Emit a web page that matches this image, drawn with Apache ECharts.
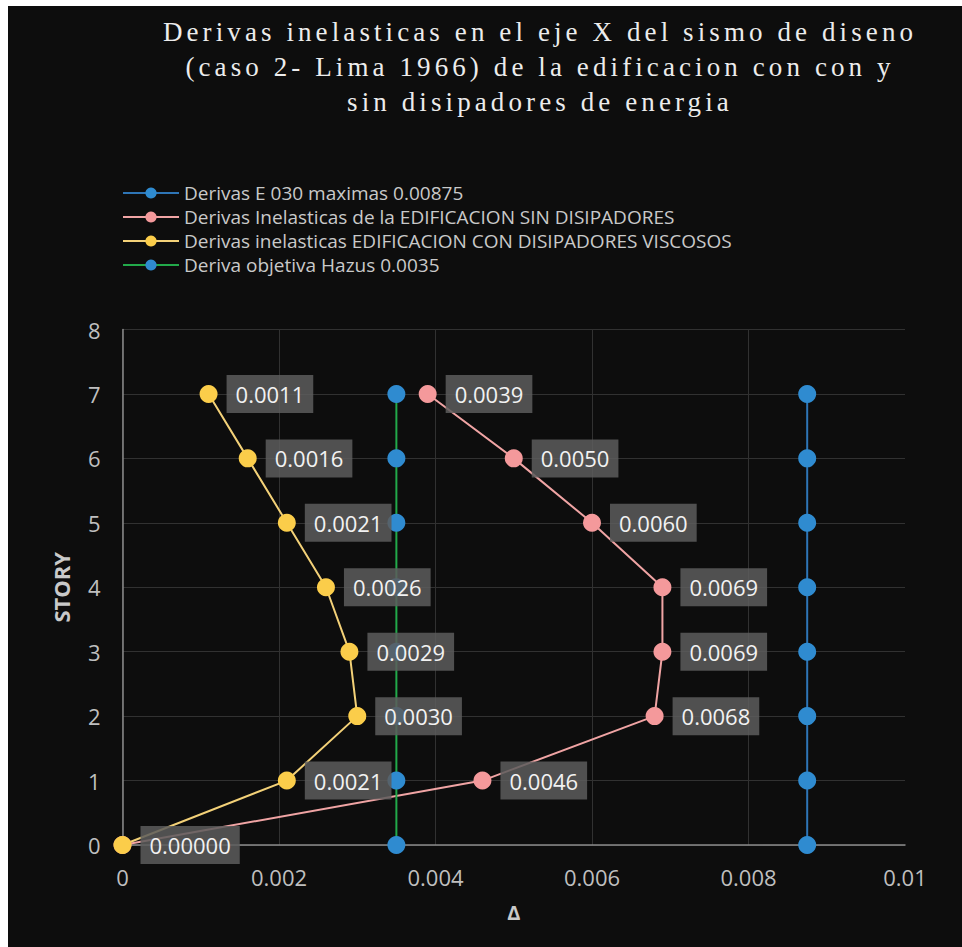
<!DOCTYPE html>
<html>
<head>
<meta charset="utf-8">
<title>Derivas inelasticas - eje X</title>
<script src="https://cdn.jsdelivr.net/npm/echarts@6/dist/echarts.min.js"></script>
<style>
  html, body { margin: 0; padding: 0; background: #ffffff; }
  #chart { position: absolute; left: 8px; top: 6px; width: 954px; height: 941px; background: #0d0d0d; }
  /* spaced-out serif heading */
  #chart svg text[style*="Liberation Serif"] { letter-spacing: 4.1px; }
</style>
</head>
<body>
<div id="chart"></div>
<script>
// Story levels (vertical axis)
const stories = [0, 1, 2, 3, 4, 5, 6, 7];

// Drift values per story
const e030Max = [0.00875, 0.00875, 0.00875, 0.00875, 0.00875, 0.00875, 0.00875, 0.00875];
const sinDisipadores = [0, 0.0046, 0.0068, 0.0069, 0.0069, 0.0060, 0.0050, 0.0039];
const conDisipadores = [0, 0.0021, 0.0030, 0.0029, 0.0026, 0.0021, 0.0016, 0.0011];
const hazusObjetivo = [0.0035, 0.0035, 0.0035, 0.0035, 0.0035, 0.0035, 0.0035, 0.0035];

// Series names shown in the legend
const seriesNames = [
  'Derivas E 030 maximas 0.00875',
  'Derivas Inelasticas de la EDIFICACION SIN DISIPADORES',
  'Derivas inelasticas EDIFICACION CON DISIPADORES VISCOSOS',
  'Deriva objetiva Hazus 0.0035'
];

// Axis ranges and tick steps
const xTicks = [0, 0.002, 0.004, 0.006, 0.008, 0.01];
const yTicks = [0, 1, 2, 3, 4, 5, 6, 7, 8];

const titleLines = [
  'Derivas inelasticas en el eje X del sismo de diseno',
  '(caso 2- Lima 1966) de la edificacion con con y',
  'sin disipadores de energia'
];

const pairs = (xs) => xs.map((x, i) => [x, stories[i]]);

const labelStyle = {
  show: true,
  position: 'right',
  distance: 9,
  color: '#f2f2f2',
  fontFamily: 'Open Sans',
  fontSize: 22,
  backgroundColor: 'rgba(92,92,92,0.86)',
  padding: [8, 9],
  formatter: (p) => (p.value[0] === 0 ? p.value[0].toFixed(5) : p.value[0].toFixed(4))
};

const chart = echarts.init(document.getElementById('chart'), null, { renderer: 'svg' });

chart.setOption({
  animation: false,
  backgroundColor: '#0d0d0d',
  title: {
    text: titleLines.join('\n'),
    left: 527,
    top: 3,
    textAlign: 'center',
    textStyle: {
      color: '#ececec',
      fontFamily: 'Liberation Serif',
      fontWeight: 'normal',
      fontSize: 27,
      lineHeight: 35
    }
  },
  legend: {
    orient: 'vertical',
    left: 109,
    top: 172,
    itemWidth: 56,
    itemHeight: 14,
    itemGap: 4,
    textStyle: { color: '#c9c9c9', fontFamily: 'Open Sans', fontSize: 19, lineHeight: 20 },
    data: seriesNames
  },
  grid: { left: 114.5, top: 323.5, width: 782.5, height: 515.5, containLabel: false },
  xAxis: {
    type: 'value',
    min: xTicks[0],
    max: xTicks[xTicks.length - 1],
    interval: xTicks[1] - xTicks[0],
    name: 'Δ',
    nameLocation: 'middle',
    nameGap: 57,
    nameTextStyle: { color: '#c9c9c9', fontFamily: 'Open Sans', fontWeight: 'bold', fontSize: 20 },
    axisLine: { show: true, lineStyle: { color: '#8a8a8a', width: 1.5 } },
    axisTick: { show: false },
    axisLabel: { color: '#bfbfbf', fontFamily: 'Open Sans', fontSize: 22, margin: 21 },
    splitLine: { show: true, showMaxLine: false, lineStyle: { color: '#313131', width: 1 } }
  },
  yAxis: {
    type: 'value',
    min: yTicks[0],
    max: yTicks[yTicks.length - 1],
    interval: yTicks[1] - yTicks[0],
    name: 'STORY',
    nameLocation: 'middle',
    nameGap: 51,
    nameRotate: 90,
    nameTextStyle: { color: '#c9c9c9', fontFamily: 'Open Sans', fontWeight: 'bold', fontSize: 22 },
    axisLine: { show: true, lineStyle: { color: '#8a8a8a', width: 1.5 } },
    axisTick: { show: false },
    axisLabel: { color: '#bfbfbf', fontFamily: 'Open Sans', fontSize: 22, margin: 22 },
    splitLine: { show: true, lineStyle: { color: '#313131', width: 1 } }
  },
  series: [
    {
      name: seriesNames[0],
      type: 'line',
      data: pairs(e030Max),
      symbol: 'circle',
      symbolSize: 18,
      lineStyle: { color: '#2e75b6', width: 2 },
      itemStyle: { color: '#2f8bd0' }
    },
    {
      name: seriesNames[1],
      type: 'line',
      data: pairs(sinDisipadores).map((d, i) => (i === 0 ? { value: d, label: { show: false } } : d)),
      symbol: 'circle',
      symbolSize: 18,
      lineStyle: { color: '#f0a4a4', width: 2 },
      itemStyle: { color: '#f4999b' },
      label: labelStyle
    },
    {
      name: seriesNames[2],
      type: 'line',
      data: pairs(conDisipadores),
      symbol: 'circle',
      symbolSize: 18,
      lineStyle: { color: '#f3d178', width: 2 },
      itemStyle: { color: '#fbcd4a' },
      label: labelStyle
    },
    {
      name: seriesNames[3],
      type: 'line',
      data: pairs(hazusObjetivo),
      symbol: 'circle',
      symbolSize: 18,
      lineStyle: { color: '#22a94a', width: 2 },
      itemStyle: { color: '#2f8bd0' }
    }
  ]
});
</script>
</body>
</html>
